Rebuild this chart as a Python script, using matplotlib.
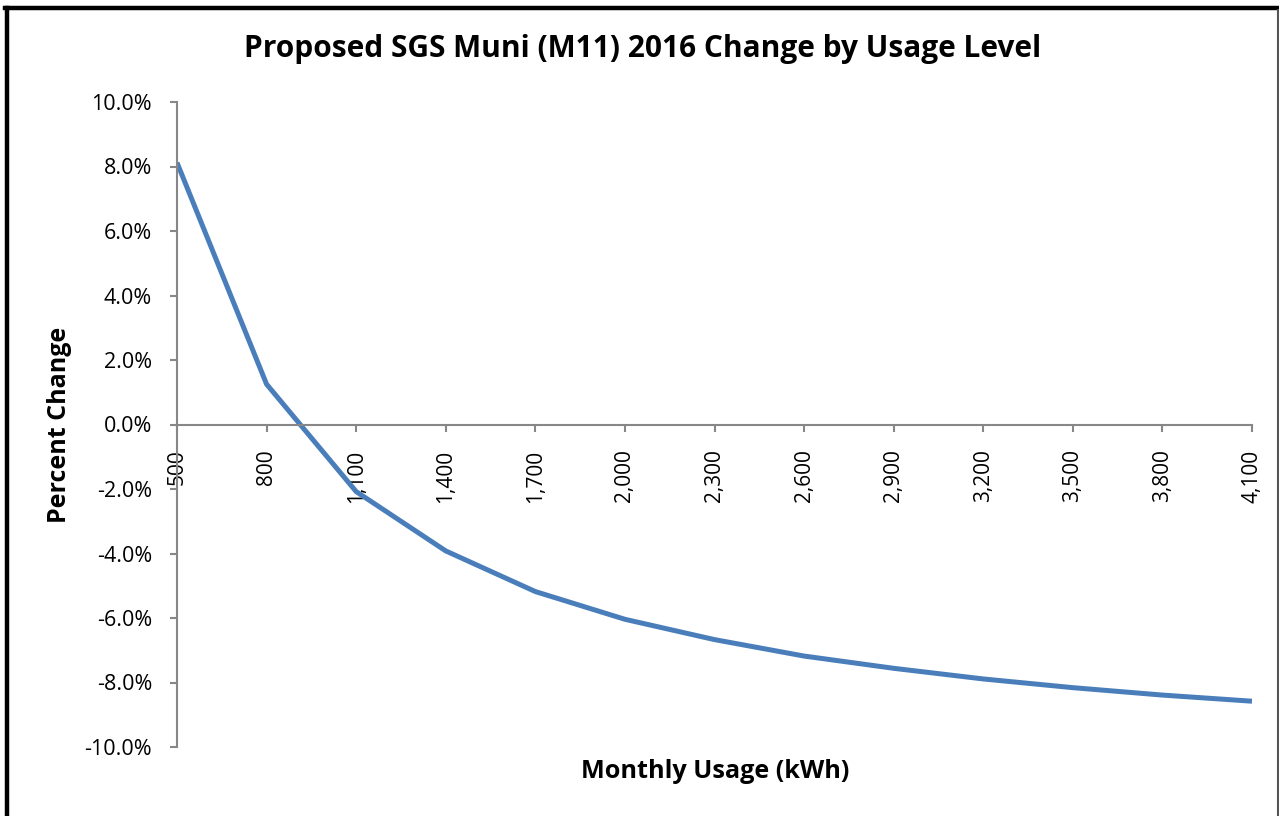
import matplotlib
matplotlib.use("Agg")
import matplotlib.pyplot as plt
from matplotlib.ticker import FuncFormatter
from matplotlib.lines import Line2D

usage_kwh = [500, 800, 1100, 1400, 1700, 2000, 2300, 2600, 2900, 3200, 3500, 3800, 4100]
pct_change = [8.12, 1.25, -2.08, -3.92, -5.18, -6.04, -6.67, -7.18, -7.56, -7.89, -8.16, -8.39, -8.58]
y_ticks = [-10, -8, -6, -4, -2, 0, 2, 4, 6, 8, 10]
x_tick_labels = [f"{v:,}" for v in usage_kwh]

FONT = ["Open Sans", "DejaVu Sans"]
plt.rcParams['font.family'] = FONT

W, H = 1279, 816
fig = plt.figure(figsize=(W / 100, H / 100), dpi=100)
ax = fig.add_axes([177 / W, 1 - 747 / H, (1252 - 177) / W, (747 - 102) / H])

ax.plot(usage_kwh, pct_change, color="#4A7EBB", lw=3.6, solid_capstyle="butt", solid_joinstyle="round")

ax.set_xlim(usage_kwh[0], usage_kwh[-1])
ax.set_ylim(-10, 10)
ax.set_yticks(y_ticks)
ax.yaxis.set_major_formatter(FuncFormatter(lambda v, p: f"{v:.1f}%"))
ax.set_xticks(usage_kwh)
ax.set_xticklabels(x_tick_labels)

axis_col = "#878787"
for s in ["top", "right"]:
    ax.spines[s].set_visible(False)
ax.spines["bottom"].set_position(("data", 0))
ax.spines["bottom"].set_color(axis_col)
ax.spines["left"].set_color(axis_col)
ax.spines["bottom"].set_linewidth(1.5)
ax.spines["left"].set_linewidth(1.5)
ax.tick_params(axis="both", colors=axis_col, width=1.5, length=5, labelsize=15.5, labelcolor="black")
ax.tick_params(axis="x", pad=13, labelsize=15, labelrotation=90)
ax.tick_params(axis="y", pad=13)
for lab in ax.get_xticklabels():
    lab.set_va("top")
    lab.set_ha("center")

fig.text(643 / W, 1 - 49 / H, "Proposed SGS Muni (M11) 2016 Change by Usage Level",
         ha="center", va="center", fontsize=21.5, fontweight="bold")
fig.text(715 / W, 1 - 772 / H, "Monthly Usage (kWh)", ha="center", va="center",
         fontsize=18.2, fontweight="bold")
fig.text(60 / W, 1 - 425 / H, "Percent Change", ha="center", va="center",
         fontsize=18, fontweight="bold", rotation=90)

# chart border
fig.add_artist(Line2D([7 / W, 7 / W], [0, 1 - 8 / H], transform=fig.transFigure, color="black", lw=3.2))
fig.add_artist(Line2D([5 / W, 1 - 1 / W], [1 - 8 / H, 1 - 8 / H], transform=fig.transFigure, color="black", lw=3.2))
fig.add_artist(Line2D([1 - 1.5 / W, 1 - 1.5 / W], [0, 1 - 10 / H], transform=fig.transFigure, color="#555555", lw=1.5))

fig.savefig("out.png", dpi=100)
